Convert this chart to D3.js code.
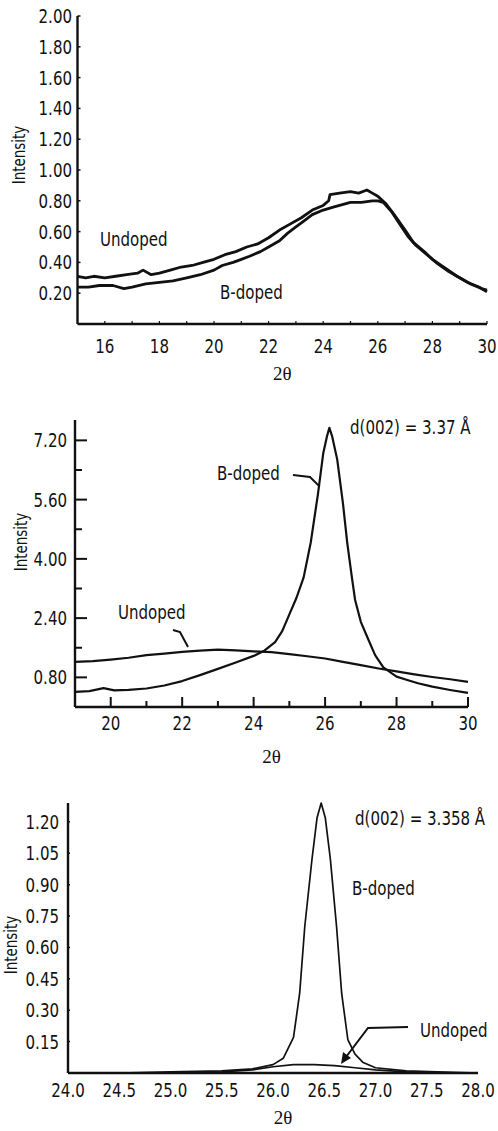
<!DOCTYPE html>
<html>
<head>
<meta charset="utf-8">
<script src="https://cdn.jsdelivr.net/npm/d3@7"></script>
<style>
  body { margin: 0; background: #fff; }
  svg text { font-family: "DejaVu Sans Condensed", "DejaVu Sans", sans-serif; font-stretch: condensed; fill: #111; }
  svg text.theta { font-family: "Liberation Serif", "DejaVu Serif", serif; font-stretch: normal; }
</style>
</head>
<body>
<div id="graph"></div>
<script>
var SVGwidth = 498,
	SVGheight = 1131;

// ---- panel 1 : broad hump ----
var p1X = [15.0, 15.3, 15.6, 16.0, 16.4, 16.8, 17.2, 17.4, 17.7, 18.0, 18.4, 18.8, 19.2, 19.6, 20.0, 20.4, 20.8, 21.2, 21.6, 22.0, 22.4, 22.8, 23.2, 23.6, 24.0, 24.2, 24.25, 24.6, 25.0, 25.3, 25.6, 25.8, 26.0, 26.3, 26.6, 27.0, 27.3, 27.7, 28.0, 28.5, 28.9, 29.3, 29.7, 30.0];
var p1Undoped = [0.31, 0.30, 0.31, 0.30, 0.31, 0.32, 0.33, 0.35, 0.32, 0.33, 0.35, 0.37, 0.38, 0.40, 0.42, 0.45, 0.47, 0.50, 0.52, 0.56, 0.61, 0.65, 0.69, 0.74, 0.77, 0.80, 0.84, 0.85, 0.86, 0.85, 0.87, 0.85, 0.83, 0.78, 0.71, 0.61, 0.53, 0.47, 0.42, 0.36, 0.31, 0.27, 0.24, 0.21];
var p1XB = [15.0, 15.4, 15.8, 16.3, 16.7, 17.0, 17.5, 18.0, 18.5, 19.0, 19.5, 20.0, 20.3, 20.7, 21.0, 21.3, 21.7, 22.0, 22.4, 22.7, 23.0, 23.3, 23.6, 24.0, 24.4, 25.0, 25.4, 25.8, 26.0, 26.2, 26.5, 26.8, 27.1, 27.4, 27.8, 28.2, 28.6, 29.0, 29.4, 29.8, 30.0];
var p1Bdoped = [0.24, 0.24, 0.25, 0.25, 0.23, 0.24, 0.26, 0.27, 0.28, 0.30, 0.32, 0.35, 0.38, 0.40, 0.42, 0.44, 0.47, 0.50, 0.54, 0.59, 0.63, 0.67, 0.71, 0.74, 0.76, 0.79, 0.79, 0.80, 0.80, 0.79, 0.73, 0.65, 0.57, 0.51, 0.45, 0.39, 0.34, 0.30, 0.26, 0.23, 0.22];
var p1YTicks = [0.2, 0.4, 0.6, 0.8, 1.0, 1.2, 1.4, 1.6, 1.8, 2.0];
var p1XLabels = [16, 18, 20, 22, 24, 26, 28, 30];

// ---- panel 2 : d(002) = 3.37 ----
var p2XU = [19, 19.5, 20, 20.5, 21, 21.5, 22, 22.5, 23, 23.5, 24, 24.5, 25, 25.5, 26, 26.5, 27, 27.5, 28, 28.5, 29, 29.5, 30];
var p2Undoped = [1.22, 1.24, 1.28, 1.33, 1.40, 1.44, 1.49, 1.52, 1.55, 1.53, 1.50, 1.48, 1.43, 1.37, 1.31, 1.22, 1.13, 1.04, 0.96, 0.88, 0.81, 0.75, 0.68];
var p2XB = [19, 19.4, 19.8, 20.1, 20.5, 21, 21.5, 22, 22.5, 23, 23.5, 24, 24.3, 24.6, 24.8, 25.0, 25.2, 25.4, 25.6, 25.8, 25.95, 26.05, 26.12, 26.2, 26.34, 26.5, 26.62, 26.75, 26.84, 27.0, 27.18, 27.4, 27.63, 28.0, 28.3, 28.6, 29.0, 29.5, 30];
var p2Bdoped = [0.41, 0.43, 0.51, 0.45, 0.46, 0.50, 0.58, 0.70, 0.86, 1.03, 1.20, 1.38, 1.52, 1.75, 2.05, 2.50, 2.95, 3.50, 4.45, 5.75, 6.86, 7.30, 7.54, 7.30, 6.68, 5.50, 4.43, 3.50, 2.89, 2.30, 1.89, 1.40, 1.07, 0.82, 0.73, 0.64, 0.55, 0.46, 0.38];
var p2YLabels = [0.8, 2.4, 4.0, 5.6, 7.2];
var p2YMinor = [1.6, 3.2, 4.8, 6.4];
var p2XLabels = [20, 22, 24, 26, 28, 30];
var p2XMinor = [21, 23, 25, 27, 29];

// ---- panel 3 : d(002) = 3.358 ----
var p3XB = [24.0, 24.5, 25.0, 25.5, 25.8, 26.0, 26.1, 26.2, 26.26, 26.31, 26.38, 26.43, 26.47, 26.51, 26.56, 26.62, 26.67, 26.73, 26.8, 26.88, 27.0, 27.3, 27.6, 28.0];
var p3Bdoped = [0.0, 0.0, 0.005, 0.01, 0.02, 0.04, 0.07, 0.17, 0.38, 0.70, 1.02, 1.22, 1.29, 1.22, 1.02, 0.70, 0.38, 0.16, 0.09, 0.05, 0.025, 0.01, 0.005, 0.0];
var p3XU = [24.0, 25.0, 25.5, 25.8, 26.0, 26.2, 26.4, 26.6, 26.8, 27.0, 27.3, 27.6, 28.0];
var p3Undoped = [0.0, 0.0, 0.005, 0.015, 0.03, 0.04, 0.04, 0.035, 0.025, 0.015, 0.005, 0.0, 0.0];
var p3YTicks = [0.15, 0.30, 0.45, 0.60, 0.75, 0.90, 1.05, 1.20];
var p3XLabels = [24.0, 24.5, 25.0, 25.5, 26.0, 26.5, 27.0, 27.5, 28.0];

var svg = d3.select('div#graph')
	.append('svg')
	.attr('width', SVGwidth)
	.attr('height', SVGheight);

function pts(xs, ys) {
	return xs.map(function(d, i) { return [d, ys[i]]; });
}

function curve(x, y, data, w) {
	svg.append("path")
		.datum(data)
		.attr("fill", "none")
		.attr("stroke", "#111")
		.attr("stroke-width", w)
		.attr("stroke-linejoin", "round")
		.attr("d", d3.line().x(function(d) { return x(d[0]); }).y(function(d) { return y(d[1]); }));
}

// text squeezed horizontally to look like the condensed face of the original
function label(txt, xx, yy, size, anchor, cls, rot) {
	return svg.append("text")
		.attr("class", cls || null)
		.attr("transform", "translate(" + xx + "," + yy + ")" + (rot ? " rotate(-90)" : "") + (cls ? "" : " scale(0.88,1)"))
		.attr("font-size", size)
		.attr("text-anchor", anchor || "start")
		.attr("dominant-baseline", "central")
		.text(txt);
}

function frame(x, y, w) {
	svg.append("line")
		.attr("x1", x.range()[0]).attr("x2", x.range()[0])
		.attr("y1", y.range()[1]).attr("y2", y.range()[0])
		.attr("stroke", "#111").attr("stroke-width", w);
	svg.append("line")
		.attr("x1", x.range()[0]).attr("x2", x.range()[1])
		.attr("y1", y.range()[0]).attr("y2", y.range()[0])
		.attr("stroke", "#111").attr("stroke-width", w);
}

function yTicks(x, y, vals, len, w) {
	svg.selectAll(null).data(vals).enter().append("line")
		.attr("x1", x.range()[0]).attr("x2", x.range()[0] + len)
		.attr("y1", function(d) { return y(d); }).attr("y2", function(d) { return y(d); })
		.attr("stroke", "#111").attr("stroke-width", w);
}

function xTicks(x, y, vals, len, w) {
	svg.selectAll(null).data(vals).enter().append("line")
		.attr("x1", function(d) { return x(d); }).attr("x2", function(d) { return x(d); })
		.attr("y1", y.range()[0]).attr("y2", y.range()[0] - len)
		.attr("stroke", "#111").attr("stroke-width", w);
}

// panel 1
var x1 = d3.scaleLinear().domain([15, 30]).range([77.5, 487]),
	y1 = d3.scaleLinear().domain([0, 2.0]).range([324, 16]);

frame(x1, y1, 2.4);
yTicks(x1, y1, p1YTicks, 3, 1.5);
xTicks(x1, y1, d3.range(16, 31), 3, 1.2);
p1YTicks.forEach(function(d) { label(d3.format(".2f")(d), 72, y1(d), 19, "end"); });
p1XLabels.forEach(function(d) { label(d, x1(d), 346, 19, "middle"); });
label("2θ", x1(22.5), 373, 19, "middle", "theta");
label("Intensity", 19, 155, 17, "middle", null, true);
curve(x1, y1, pts(p1X, p1Undoped), 2.8);
curve(x1, y1, pts(p1XB, p1Bdoped), 2.8);
label("Undoped", 100, 239, 19, "start");
label("B-doped", 220, 292, 19, "start");

// panel 2
var x2 = d3.scaleLinear().domain([19, 30]).range([75, 468]),
	y2 = d3.scaleLinear().domain([0, 7.75]).range([707, 420]);

frame(x2, y2, 2.4);
yTicks(x2, y2, p2YLabels, 12, 2);
yTicks(x2, y2, p2YMinor, 7, 2);
xTicks(x2, y2, p2XLabels, 10, 2);
xTicks(x2, y2, p2XMinor, 6, 2);
p2YLabels.forEach(function(d) { label(d3.format(".2f")(d), 67, y2(d), 19, "end"); });
p2XLabels.forEach(function(d) { label(d, x2(d), 723, 19, "middle"); });
label("2θ", x2(24.5), 756, 19, "middle", "theta");
label("Intensity", 21, 542, 17, "middle", null, true);
curve(x2, y2, pts(p2XU, p2Undoped), 2.2);
curve(x2, y2, pts(p2XB, p2Bdoped), 2.2);
label("Undoped", 118, 612, 19, "start");
label("B-doped", 217, 473, 19, "start");
label("d(002) = 3.37 Å", 350, 427, 19, "start");
// leader lines
svg.append("path").attr("fill", "none").attr("stroke", "#111").attr("stroke-width", 2)
	.attr("d", "M173,630 L180,632 L188,647");
svg.append("path").attr("fill", "none").attr("stroke", "#111").attr("stroke-width", 2)
	.attr("d", "M293,475 L310,477 L" + x2(25.85) + "," + y2(5.95));

// panel 3
var x3 = d3.scaleLinear().domain([24, 28]).range([68, 478]),
	y3 = d3.scaleLinear().domain([0, 1.29]).range([1073, 803]);

frame(x3, y3, 2.4);
yTicks(x3, y3, p3YTicks, 2, 1.5);
p3YTicks.forEach(function(d) { label(d3.format(".2f")(d), 59, y3(d), 19, "end"); });
p3XLabels.forEach(function(d) { label(d3.format(".1f")(d), x3(d), 1090, 19, "middle"); });
label("2θ", 283, 1117, 19, "middle", "theta");
label("Intensity", 11, 945, 17, "middle", null, true);
curve(x3, y3, pts(p3XU, p3Undoped), 1.7);
curve(x3, y3, pts(p3XB, p3Bdoped), 1.7);
label("B-doped", 352, 888, 19, "start");
label("d(002) = 3.358 Å", 355, 818, 19, "start");
label("Undoped", 420, 1030, 19, "start");
svg.append("path").attr("fill", "none").attr("stroke", "#111").attr("stroke-width", 2)
	.attr("d", "M408,1027 L368,1028 L346,1057");
svg.append("path").attr("fill", "#111")
	.attr("d", "M341,1064 L343,1052 L351,1058 Z");
</script>
</body>
</html>
